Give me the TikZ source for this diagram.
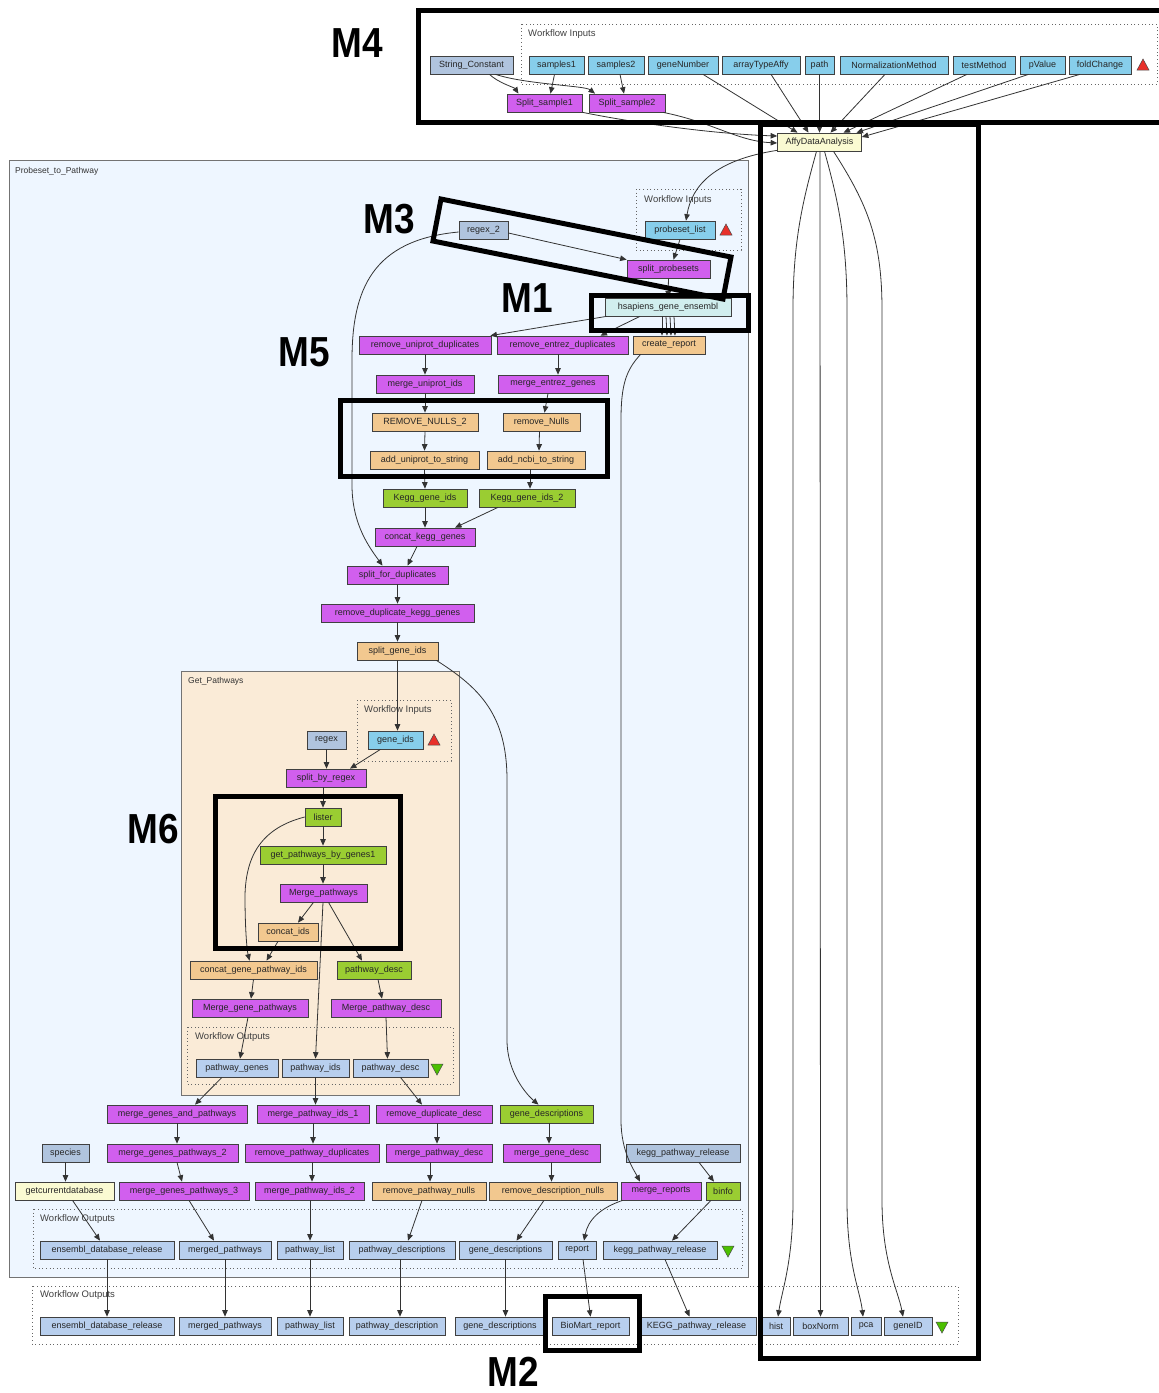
\documentclass[tikz,border=0pt]{standalone}
\usepackage{fontspec}
\setmainfont{Liberation Sans}
\usetikzlibrary{arrows.meta}
\definecolor{magc}{HTML}{D15FEE}
\definecolor{tanc}{HTML}{F2C88F}
\definecolor{grnc}{HTML}{9ACD32}
\definecolor{skyc}{HTML}{87CEEB}
\definecolor{lsbc}{HTML}{B0C4DE}
\definecolor{outc}{HTML}{B8CFEE}
\definecolor{cyac}{HTML}{D1EEEE}
\definecolor{yelc}{HTML}{FAFAD2}
\definecolor{pbg}{HTML}{EEF6FF}
\definecolor{gbg}{HTML}{FAEBD7}
\definecolor{redt}{HTML}{E8302A}
\definecolor{grnt}{HTML}{4CC000}
\begin{document}
\begin{tikzpicture}[x=1pt,y=-1pt,
  base/.style={draw=black!75, line width=0.7pt, minimum height=18, inner sep=1pt, font=\fontsize{9}{10}\selectfont, text=black!85},
  mag/.style={base, fill=magc},
  tan/.style={base, fill=tanc},
  grn/.style={base, fill=grnc},
  sky/.style={base, fill=skyc},
  lsb/.style={base, fill=lsbc},
  outn/.style={base, fill=outc},
  cya/.style={base, fill=cyac},
  yel/.style={base, fill=yelc},
  lab/.style={font=\fontsize{8.5}{9}\selectfont, text=black!80, inner sep=0pt, anchor=west},
  wlab/.style={font=\fontsize{9.5}{10}\selectfont, text=black!75, inner sep=0pt, anchor=west},
  mlab/.style={font=\fontsize{42}{42}\selectfont\bfseries, inner sep=0pt},
  clus/.style={draw=black!55, line width=0.8pt},
  wbox/.style={draw=black!60, line width=0.9pt, dash pattern=on 1pt off 2.6pt},
  conn/.style={draw=black!80, line width=0.8pt, -{Triangle[length=6.5pt,width=5.5pt]}},
  mbox/.style={draw=black, line width=5pt}
]
\useasboundingbox (0,0) rectangle (1159,1393);
\fill[white] (0,0) rectangle (1159,1393);

% clusters
\filldraw[clus, fill=pbg] (9,160) rectangle (748,1277);
\filldraw[clus, fill=gbg] (181,671) rectangle (459,1095);
\draw[wbox] (521,24) rectangle (1157,84);
\draw[wbox] (636,189) rectangle (741,250);
\draw[wbox] (357,700) rectangle (451,761);
\draw[wbox] (187,1027) rectangle (453,1084);
\draw[wbox] (33,1209) rectangle (742,1268);
\draw[wbox] (32,1286) rectangle (958,1344);

\node[wlab] (wi1) at (528,34) {Workflow Inputs};
\node[lab] (lpp) at (15,171) {Probeset\_to\_Pathway};
\node[wlab] (wi2) at (644,200) {Workflow Inputs};
\node[lab] (lgp) at (188,681) {Get\_Pathways};
\node[wlab] (wi3) at (364,710) {Workflow Inputs};
\node[wlab] (wo1) at (195,1037) {Workflow Outputs};
\node[wlab] (wo2) at (40,1219) {Workflow Outputs};
\node[wlab] (wo3) at (40,1295) {Workflow Outputs};

% triangles
\filldraw[fill=redt, draw=black!70, line width=0.5pt] (1137,70) -- (1149,70) -- (1143,59) -- cycle;
\filldraw[fill=redt, draw=black!70, line width=0.5pt] (720,235) -- (732,235) -- (726,224) -- cycle;
\filldraw[fill=redt, draw=black!70, line width=0.5pt] (428,745) -- (440,745) -- (434,734) -- cycle;
\filldraw[fill=grnt, draw=black!70, line width=0.5pt] (431,1064) -- (443,1064) -- (437,1075) -- cycle;
\filldraw[fill=grnt, draw=black!70, line width=0.5pt] (722,1246) -- (734,1246) -- (728,1257) -- cycle;
\filldraw[fill=grnt, draw=black!70, line width=0.5pt] (936,1322) -- (948,1322) -- (942,1333) -- cycle;

% top nodes
\node[lsb, minimum width=83] (sc) at (471.5,65) {String\_Constant};
\node[sky, minimum width=55] (s1) at (556.5,65) {samples1};
\node[sky, minimum width=56] (s2) at (616,65) {samples2};
\node[sky, minimum width=70] (gn) at (683,65) {geneNumber};
\node[sky, minimum width=78] (ata) at (761,65) {arrayTypeAffy};
\node[sky, minimum width=29] (pth) at (819.5,65) {path};
\node[sky, minimum width=108] (nm) at (894,65) {NormalizationMethod};
\node[sky, minimum width=62] (tm) at (984,65) {testMethod};
\node[sky, minimum width=45] (pv) at (1042.5,65) {pValue};
\node[sky, minimum width=62] (fc) at (1100,65) {foldChange};
\node[mag, minimum width=75] (ss1) at (544.5,103) {Split\_sample1};
\node[mag, minimum width=76] (ss2) at (627,103) {Split\_sample2};
\node[yel, minimum width=84] (affy) at (819.5,142) {AffyDataAnalysis};

% probeset
\node[sky, minimum width=70] (pl) at (680,230) {probeset\_list};
\node[lsb, minimum width=49] (rx2) at (483.5,230) {regex\_2};
\node[mag, minimum width=83] (sp) at (668.5,269) {split\_probesets};
\node[cya, minimum width=126] (hs) at (668,307) {hsapiens\_gene\_ensembl};
\node[mag, minimum width=132] (rud) at (425,345) {remove\_uniprot\_duplicates};
\node[mag, minimum width=131] (red) at (562.5,345) {remove\_entrez\_duplicates};
\node[tan, minimum width=72] (cr) at (669,345) {create\_report};
\node[mag, minimum width=98] (mui) at (425,384) {merge\_uniprot\_ids};
\node[mag, minimum width=110] (meg) at (553,384) {merge\_entrez\_genes};
\node[tan, minimum width=106] (rn2) at (425,422) {REMOVE\_NULLS\_2};
\node[tan, minimum width=77] (rn) at (541.5,422) {remove\_Nulls};
\node[tan, minimum width=109] (aus) at (424.5,460) {add\_uniprot\_to\_string};
\node[tan, minimum width=98] (ans) at (536,460) {add\_ncbi\_to\_string};
\node[grn, minimum width=84] (kg1) at (425,498) {Kegg\_gene\_ids};
\node[grn, minimum width=96] (kg2) at (527,498) {Kegg\_gene\_ids\_2};
\node[mag, minimum width=100] (ckg) at (425,537) {concat\_kegg\_genes};
\node[mag, minimum width=101] (sfd) at (397.5,575) {split\_for\_duplicates};
\node[mag, minimum width=153] (rdk) at (397.5,613) {remove\_duplicate\_kegg\_genes};
\node[tan, minimum width=81] (sgi) at (397.5,651) {split\_gene\_ids};

% get pathways
\node[sky, minimum width=55] (gi) at (395.5,740) {gene\_ids};
\node[lsb, minimum width=39] (rx) at (326.5,740) {regex};
\node[mag, minimum width=80] (sbr) at (326,778) {split\_by\_regex};
\node[grn, minimum width=36] (lst) at (323,817) {lister};
\node[grn, minimum width=126] (gpg) at (323,855) {get\_pathways\_by\_genes1};
\node[mag, minimum width=87] (mp) at (323.5,893) {Merge\_pathways};
\node[tan, minimum width=60] (ci) at (288,932) {concat\_ids};
\node[tan, minimum width=127] (cgp) at (253.5,970) {concat\_gene\_pathway\_ids};
\node[grn, minimum width=74] (pd) at (374,970) {pathway\_desc};
\node[mag, minimum width=116] (mgp) at (250,1008) {Merge\_gene\_pathways};
\node[mag, minimum width=110] (mpd) at (386,1008) {Merge\_pathway\_desc};
\node[outn, minimum width=82] (opg) at (237,1068) {pathway\_genes};
\node[outn, minimum width=67] (opi) at (315.5,1068) {pathway\_ids};
\node[outn, minimum width=75] (opd) at (390.5,1068) {pathway\_desc};

% lower rows
\node[mag, minimum width=140] (mgap) at (177,1114) {merge\_genes\_and\_pathways};
\node[mag, minimum width=112] (mpi1) at (313,1114) {merge\_pathway\_ids\_1};
\node[mag, minimum width=116] (rdd) at (434,1114) {remove\_duplicate\_desc};
\node[grn, minimum width=93] (gd) at (546.5,1114) {gene\_descriptions};
\node[lsb, minimum width=47] (spc) at (65.5,1153) {species};
\node[mag, minimum width=131] (mgp2) at (172.5,1153) {merge\_genes\_pathways\_2};
\node[mag, minimum width=134] (rpd) at (312,1153) {remove\_pathway\_duplicates};
\node[mag, minimum width=106] (mpdesc) at (439,1153) {merge\_pathway\_desc};
\node[mag, minimum width=97] (mgd) at (551.5,1153) {merge\_gene\_desc};
\node[lsb, minimum width=114] (kpr) at (683,1153) {kegg\_pathway\_release};
\node[yel, minimum width=99] (gcd) at (64.5,1191) {getcurrentdatabase};
\node[mag, minimum width=130] (mgp3) at (184,1191) {merge\_genes\_pathways\_3};
\node[mag, minimum width=109] (mpi2) at (309.5,1191) {merge\_pathway\_ids\_2};
\node[tan, minimum width=114] (rpn) at (429,1191) {remove\_pathway\_nulls};
\node[tan, minimum width=128] (rdn) at (553,1191) {remove\_description\_nulls};
\node[mag, minimum width=80] (mr) at (661,1191) {merge\_reports};
\node[grn, minimum width=34] (bi) at (723,1191) {binfo};

% inner outputs
\node[outn, minimum width=134] (io1) at (107,1250) {ensembl\_database\_release};
\node[outn, minimum width=92] (io2) at (225,1250) {merged\_pathways};
\node[outn, minimum width=66] (io3) at (310,1250) {pathway\_list};
\node[outn, minimum width=106] (io4) at (402,1250) {pathway\_descriptions};
\node[outn, minimum width=93] (io5) at (505.5,1250) {gene\_descriptions};
\node[outn, minimum width=38] (io6) at (577,1250) {report};
\node[outn, minimum width=114] (io7) at (660,1250) {kegg\_pathway\_release};

% outer outputs
\node[outn, minimum width=134] (oo1) at (107,1326) {ensembl\_database\_release};
\node[outn, minimum width=92] (oo2) at (225,1326) {merged\_pathways};
\node[outn, minimum width=66] (oo3) at (310,1326) {pathway\_list};
\node[outn, minimum width=96] (oo4) at (397,1326) {pathway\_description};
\node[outn, minimum width=90] (oo5) at (500,1326) {gene\_descriptions};
\node[outn, minimum width=77] (oo6) at (590.5,1326) {BioMart\_report};
\node[outn, minimum width=119] (oo7) at (696.5,1326) {KEGG\_pathway\_release};
\node[outn, minimum width=28] (oo8) at (776,1326) {hist};
\node[outn, minimum width=55] (oo9) at (820.5,1326) {boxNorm};
\node[outn, minimum width=30] (oo10) at (866,1326) {pca};
\node[outn, minimum width=48] (oo11) at (908,1326) {geneID};

% ---- connectors: top
\draw[conn] ([xshift=18pt]sc.south) .. controls +(8,8) and +(-4,-6) .. ([xshift=-26pt]ss1.north);
\draw[conn] ([xshift=24pt]sc.south) .. controls +(30,10) and +(-10,-8) .. ([xshift=-32pt]ss2.north);
\draw[conn] ([xshift=-2pt]s1.south) -- ([xshift=6pt]ss1.north);
\draw[conn] ([xshift=4pt]s2.south) -- ([xshift=-3pt]ss2.north);
\draw[conn] ([xshift=20pt]gn.south) -- ([xshift=-22pt]affy.north);
\draw[conn] ([xshift=10pt]ata.south) -- ([xshift=-11pt]affy.north);
\draw[conn] (pth.south) -- (affy.north);
\draw[conn] ([xshift=-9pt]nm.south) -- ([xshift=11pt]affy.north);
\draw[conn] ([xshift=-17pt]tm.south) -- ([xshift=24pt]affy.north);
\draw[conn] ([xshift=-14pt]pv.south) -- ([xshift=37pt]affy.north);
\draw[conn] ([xshift=-20pt]fc.south) -- ([yshift=5pt]affy.east);
\draw[conn] ([xshift=38pt]ss1.south) .. controls +(60,12) and +(-60,-2) .. ([yshift=6pt]affy.west);
\draw[conn] ([xshift=36pt]ss2.south) .. controls +(50,10) and +(-40,-2) .. ([yshift=-1pt]affy.west);
\draw[conn] ([yshift=1pt]affy.south west) .. controls (715,160) and (692,185) .. ([xshift=6pt]pl.north);
\draw[conn] ([xshift=-3pt]affy.south) .. controls (803,200) and (793,240) .. (793,310) -- (793,1200) .. controls (793,1262) and (782,1290) .. ([xshift=2pt]oo8.north);
\draw[conn] ([xshift=0.5pt]affy.south) -- (oo9.north);
\draw[conn] ([xshift=5pt]affy.south) .. controls (838,200) and (847,240) .. (847,310) -- (847,1200) .. controls (847,1265) and (860,1290) .. ([xshift=-3pt]oo10.north);
\draw[conn] ([xshift=14pt]affy.south) .. controls (868,205) and (882,240) .. (882,310) -- (882,1200) .. controls (882,1262) and (898,1290) .. ([xshift=-5pt]oo11.north);

% probeset connectors
\draw[conn] (pl.south) -- ([xshift=5pt]sp.north);
\draw[conn] ([yshift=-3pt]rx2.east) -- (sp.north west);
\draw[conn] (sp.south) -- (hs.north);
\draw[conn] ([xshift=2pt]hs.south west) -- ([xshift=-1pt]rud.north east);
\draw[conn] ([xshift=-28pt]hs.south) -- ([xshift=38pt]red.north);
\draw[conn] ([xshift=-6pt]hs.south) -- ([xshift=-7pt]cr.north);
\draw[conn] ([xshift=-2pt]hs.south) -- ([xshift=-2pt]cr.north);
\draw[conn] ([xshift=2pt]hs.south) -- ([xshift=2pt]cr.north);
\draw[conn] ([xshift=6pt]hs.south) -- ([xshift=6pt]cr.north);
\draw[conn] (rud.south) -- (mui.north);
\draw[conn] ([xshift=-4.5pt]red.south) -- ([xshift=5pt]meg.north);
\draw[conn] (mui.south) -- (rn2.north);
\draw[conn] ([xshift=-5pt]meg.south) -- ([xshift=3pt]rn.north);
\draw[conn] (rn2.south) -- (aus.north);
\draw[conn] ([xshift=-2pt]rn.south) -- ([xshift=3pt]ans.north);
\draw[conn] (aus.south) -- (kg1.north);
\draw[conn] ([xshift=-6pt]ans.south) -- ([xshift=3pt]kg2.north);
\draw[conn] (kg1.south) -- (ckg.north);
\draw[conn] ([xshift=-29pt]kg2.south) -- ([xshift=30pt]ckg.north);
\draw[conn] ([xshift=-8pt]ckg.south) -- ([xshift=10pt]sfd.north);
\draw[conn] ([yshift=-2pt]rx2.west) .. controls (372,240) and (352,290) .. (352,360) -- (352,485) .. controls (352,525) and (370,548) .. ([xshift=-15pt]sfd.north);
\draw[conn] (sfd.south) -- (rdk.north);
\draw[conn] (rdk.south) -- (sgi.north);
\draw[conn] (sgi.south) -- (sgi.south |- gi.north);
\draw[conn] ([xshift=-2pt]sgi.south east) .. controls (480,688) and (507,715) .. (507,780) -- (507,1040) .. controls (507,1072) and (526,1094) .. ([xshift=-8pt]gd.north);
\draw[conn] ([xshift=8pt]cr.south west) .. controls (626,370) and (621,385) .. (621,420) -- (621,1120) .. controls (621,1152) and (634,1170) .. ([xshift=-21pt]mr.north);

% get pathways connectors
\draw[conn] (rx.south) -- (rx.south |- sbr.north);
\draw[conn] ([xshift=-15pt]gi.south) -- ([xshift=24pt]sbr.north);
\draw[conn] ([xshift=-3pt]sbr.south) -- (lst.north);
\draw[conn] (lst.south) -- (gpg.north);
\draw[conn] (gpg.south) -- ([xshift=-0.5pt]mp.north);
\draw[conn] (lst.west) .. controls (262,828) and (246,855) .. (245,895) .. controls (245,930) and (247,950) .. ([xshift=-4pt]cgp.north);
\draw[conn] ([xshift=-10pt]mp.south) -- ([xshift=10pt]ci.north);
\draw[conn] ([xshift=-10pt]ci.south) -- ([xshift=13pt]cgp.north);
\draw[conn] ([xshift=5pt]mp.south) -- ([xshift=-12pt]pd.north);
\draw[conn] ([xshift=-0.5pt]mp.south) -- (opi.north);
\draw[conn] (cgp.south) -- ([xshift=1pt]mgp.north);
\draw[conn] ([xshift=4pt]pd.south) -- ([xshift=-4pt]mpd.north);
\draw[conn] ([xshift=-2pt]mgp.south) -- ([xshift=3pt]opg.north);
\draw[conn] (mpd.south) -- ([xshift=-3pt]opd.north);
\draw[conn] ([xshift=-15pt]opg.south) -- ([xshift=18pt]mgap.north);
\draw[conn] (opi.south) -- ([xshift=2.5pt]mpi1.north);
\draw[conn] ([xshift=10pt]opd.south) -- ([xshift=-12pt]rdd.north);

% lower rows connectors
\draw[conn] (mgap.south) -- ([xshift=4.5pt]mgp2.north);
\draw[conn] ([xshift=4.5pt]mgp2.south) -- ([xshift=-2pt]mgp3.north);
\draw[conn] (mpi1.south) -- ([xshift=1pt]rpd.north);
\draw[conn] (rpd.south) -- ([xshift=2.5pt]mpi2.north);
\draw[conn] ([xshift=3pt]rdd.south) -- ([xshift=-2pt]mpdesc.north);
\draw[conn] ([xshift=-9pt]mpdesc.south) -- ([xshift=1pt]rpn.north);
\draw[conn] ([xshift=2.5pt]gd.south) -- ([xshift=-2.5pt]mgd.north);
\draw[conn] (mgd.south) -- ([xshift=-1.5pt]rdn.north);
\draw[conn] (spc.south) -- ([xshift=1pt]gcd.north);
\draw[conn] ([xshift=16pt]kpr.south) -- ([xshift=-9pt]bi.north);
\draw[conn] ([xshift=8pt]gcd.south) -- ([xshift=-7pt]io1.north);
\draw[conn] ([xshift=5pt]mgp3.south) -- ([xshift=-11pt]io2.north);
\draw[conn] ([xshift=0.5pt]mpi2.south) -- ([xshift=0pt]io3.north);
\draw[conn] ([xshift=-7pt]rpn.south) -- ([xshift=6pt]io4.north);
\draw[conn] ([xshift=-9pt]rdn.south) -- ([xshift=11pt]io5.north);
\draw[conn] ([xshift=2pt]mr.south west) .. controls (600,1208) and (588,1220) .. ([xshift=7pt]io6.north);
\draw[conn] ([xshift=-12pt]bi.south) -- ([xshift=12pt]io7.north);

% inner to outer
\draw[conn] (io1.south) -- (oo1.north);
\draw[conn] (io2.south) -- (oo2.north);
\draw[conn] (io3.south) -- (oo3.north);
\draw[conn] ([xshift=-2pt]io4.south) -- ([xshift=3pt]oo4.north);
\draw[conn] (io5.south) -- ([xshift=5.5pt]oo5.north);
\draw[conn] ([xshift=6pt]io6.south) -- (oo6.north);
\draw[conn] ([xshift=5pt]io7.south) -- ([xshift=-7pt]oo7.north);

% highlight boxes
\draw[mbox] (418,10) rectangle (1175,122);
\draw[mbox] (760,124) rectangle (978,1358);
\draw[mbox] (441,199) -- (731,257) -- (723,299) -- (433,241) -- cycle;
\draw[mbox] (591,295) rectangle (748,330);
\draw[mbox] (340,400) rectangle (607,476);
\draw[mbox] (215,796) rectangle (400,948);
\draw[mbox] (545,1296) rectangle (639,1350);

\node[mlab] (m4) at (357,43) {\scalebox{0.88}[1]{M4}};
\node[mlab] (m3) at (389,219) {\scalebox{0.88}[1]{M3}};
\node[mlab] (m1) at (527,298) {\scalebox{0.88}[1]{M1}};
\node[mlab] (m5) at (304,352) {\scalebox{0.88}[1]{M5}};
\node[mlab] (m6) at (153,829) {\scalebox{0.88}[1]{M6}};
\node[mlab] (m2) at (513,1372) {\scalebox{0.88}[1]{M2}};
\end{tikzpicture}
\end{document}
